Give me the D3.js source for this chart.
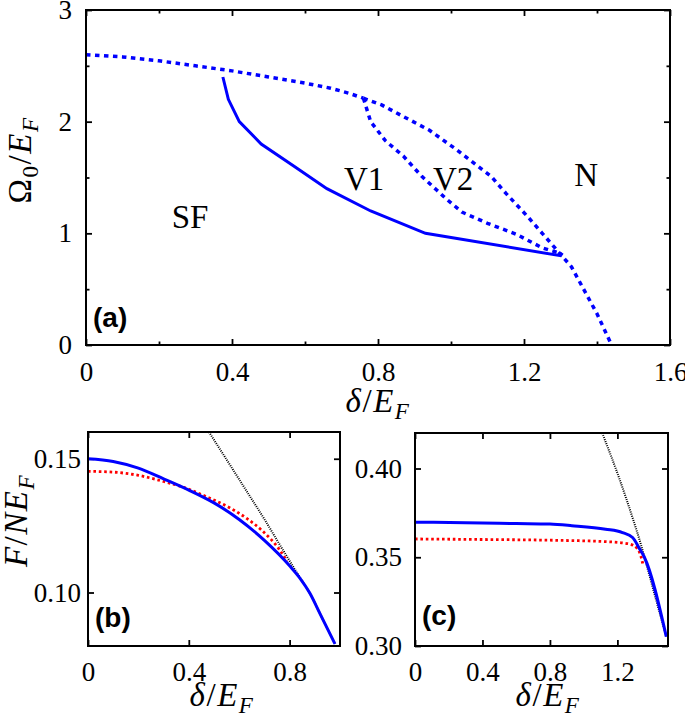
<!DOCTYPE html>
<html>
<head>
<meta charset="utf-8">
<title>phase diagram and free energy</title>
<style>
  body { margin: 0; background: #fff; }
  svg text { font-family: "Liberation Serif", "Times New Roman", serif; fill: #000; }
  .tag { font-family: "Liberation Sans", Arial, sans-serif !important; font-weight: bold; }
</style>
</head>
<body>
<svg id="fig" width="685" height="716"></svg>
<script src="https://cdnjs.cloudflare.com/ajax/libs/d3/7.8.5/d3.min.js"></script>
<script>
// ---- panel (a): phase boundaries, points are [delta/EF, Omega0/EF]
var upperBranch = [[0, 2.60], [0.1, 2.58], [0.2, 2.545], [0.3, 2.50], [0.4, 2.455], [0.5, 2.40],
                   [0.6, 2.345], [0.67, 2.30], [0.72, 2.255], [0.76, 2.21]];
var v1v2Branch = [[0.76, 2.21], [0.78, 2.0], [0.82, 1.83], [0.87, 1.69], [0.92, 1.51], [0.96, 1.39],
                  [0.99, 1.30], [1.03, 1.19], [1.10, 1.09], [1.18, 0.99], [1.25, 0.87], [1.30, 0.82]];
var v2nBranch = [[0.76, 2.21], [0.81, 2.15], [0.87, 2.045], [0.94, 1.925], [1.015, 1.75], [1.07, 1.61],
                 [1.11, 1.51], [1.15, 1.36], [1.21, 1.15], [1.25, 1.0], [1.29, 0.85], [1.33, 0.70],
                 [1.36, 0.52], [1.40, 0.28], [1.44, 0.0]];
var sfBoundary = [[0.375, 2.4], [0.39, 2.2], [0.42, 2.0], [0.48, 1.8], [0.57, 1.6], [0.66, 1.4],
                  [0.78, 1.2], [0.93, 1.0], [1.30, 0.80], [1.305, 0.825]];
var phaseNames = ["SF", "V1", "V2", "N"];
var phaseSpots = [[0.285, 1.05], [0.762, 1.39], [1.006, 1.39], [1.37, 1.42]];

// ---- panel (b): F/(N EF) vs delta/EF
var bBlue = [[0, 0.1500], [0.1, 0.1490], [0.2, 0.1465], [0.3, 0.1425], [0.4, 0.1383], [0.5, 0.1335],
             [0.6, 0.1273], [0.7, 0.1195], [0.8, 0.1100], [0.84, 0.1055], [0.88, 0.0998],
             [0.92, 0.0922], [0.98, 0.0808]];
var bRed = [[0, 0.1453], [0.1, 0.1450], [0.2, 0.1438], [0.3, 0.1415], [0.38, 0.1393], [0.47, 0.1358],
            [0.56, 0.1318], [0.63, 0.1277], [0.69, 0.1232], [0.76, 0.1160], [0.79, 0.1116]];
var bBlack = [[0.48, 0.160], [0.56, 0.1482], [0.63, 0.1378], [0.70, 0.1274], [0.76, 0.1180],
              [0.825, 0.1080], [0.86, 0.1028], [0.89, 0.0981], [0.92, 0.0922], [0.98, 0.0808]];

// ---- panel (c)
var cBlue = [[0, 0.3697], [0.3, 0.3695], [0.6, 0.3690], [0.8, 0.3687], [0.93, 0.3678], [1.13, 0.3658],
             [1.23, 0.3639], [1.29, 0.3611], [1.33, 0.3550], [1.36, 0.3500], [1.49, 0.3052]];
var cRed = [[0, 0.3603], [0.4, 0.3600], [0.8, 0.3596], [1.13, 0.3588], [1.27, 0.3575], [1.32, 0.3547],
            [1.34, 0.3503], [1.35, 0.3465]];
var cBlack = [[1.11, 0.420], [1.21, 0.3947], [1.29, 0.3722], [1.34, 0.3570], [1.37, 0.3467],
              [1.43, 0.3258], [1.49, 0.3052]];

// ticks
var aXTicks = [0, 0.4, 0.8, 1.2, 1.6], aXLabels = ["0", "0.4", "0.8", "1.2", "1.6"], aXMinor = [0.2, 0.6, 1.0, 1.4];
var aYTicks = [0, 1, 2, 3], aYLabels = ["0", "1", "2", "3"], aYMinor = [0.5, 1.5, 2.5];
var bXTicks = [0, 0.4, 0.8], bXLabels = ["0", "0.4", "0.8"];
var bYTicks = [0.10, 0.15], bYLabels = ["0.10", "0.15"];
var cXTicks = [0, 0.4, 0.8, 1.2], cXLabels = ["0", "0.4", "0.8", "1.2"];
var cYTicks = [0.30, 0.35, 0.40], cYLabels = ["0.30", "0.35", "0.40"];

var svg = d3.select('#fig');
var BLUE = '#0000ff', RED = '#ff0000';

function styleTicks(g, size) {
  g.select('.domain').remove();
  g.selectAll('.tick line').attr('stroke', '#000').attr('stroke-width', 1.8);
  g.selectAll('.tick text').style('font-size', size + 'px').style('font-family', '"Liberation Serif", serif');
}

function panel(p) {
  let x = d3.scaleLinear().domain(p.xDomain).range([p.left, p.right]);
  let y = d3.scaleLinear().domain(p.yDomain).range([p.bottom, p.top]);
  let g = svg.append('g');
  let fmt = (labels, ticks) => (d) => labels[ticks.indexOf(d)];

  g.append('g').attr('transform', 'translate(0,' + p.bottom + ')')
    .call(d3.axisBottom(x).tickValues(p.xTicks).tickFormat(fmt(p.xLabels, p.xTicks))
      .tickSizeInner(-6).tickSizeOuter(0).tickPadding(p.xPad))
    .call(styleTicks, p.fs);
  g.append('g').attr('transform', 'translate(0,' + p.top + ')')
    .call(d3.axisTop(x).tickValues(p.xTicks).tickFormat('').tickSizeInner(-6).tickSizeOuter(0))
    .call(styleTicks, p.fs);
  g.append('g').attr('transform', 'translate(' + p.left + ',0)')
    .call(d3.axisLeft(y).tickValues(p.yTicks).tickFormat(fmt(p.yLabels, p.yTicks))
      .tickSizeInner(-6).tickSizeOuter(0).tickPadding(p.yPad))
    .call(styleTicks, p.fs);
  g.append('g').attr('transform', 'translate(' + p.right + ',0)')
    .call(d3.axisRight(y).tickValues(p.yTicks).tickFormat('').tickSizeInner(-6).tickSizeOuter(0))
    .call(styleTicks, p.fs);
  if (p.xMinor) {
    g.append('g').attr('transform', 'translate(0,' + p.bottom + ')')
      .call(d3.axisBottom(x).tickValues(p.xMinor).tickFormat('').tickSizeInner(-3.5).tickSizeOuter(0)).call(styleTicks, p.fs);
    g.append('g').attr('transform', 'translate(0,' + p.top + ')')
      .call(d3.axisTop(x).tickValues(p.xMinor).tickFormat('').tickSizeInner(-3.5).tickSizeOuter(0)).call(styleTicks, p.fs);
  }
  if (p.yMinor) {
    g.append('g').attr('transform', 'translate(' + p.left + ',0)')
      .call(d3.axisLeft(y).tickValues(p.yMinor).tickFormat('').tickSizeInner(-3.5).tickSizeOuter(0)).call(styleTicks, p.fs);
    g.append('g').attr('transform', 'translate(' + p.right + ',0)')
      .call(d3.axisRight(y).tickValues(p.yMinor).tickFormat('').tickSizeInner(-3.5).tickSizeOuter(0)).call(styleTicks, p.fs);
  }

  let clipId = 'clip' + p.name;
  svg.append('clipPath').attr('id', clipId).append('rect')
    .attr('x', p.left).attr('y', p.top).attr('width', p.right - p.left).attr('height', p.bottom - p.top);
  let lines = g.append('g').attr('clip-path', 'url(#' + clipId + ')');
  let line = d3.line().x(d => x(d[0])).y(d => y(d[1])).curve(p.curve || d3.curveLinear);
  p.series.forEach(s => {
    lines.append('path').datum(s.data)
      .attr('d', line).attr('fill', 'none')
      .attr('stroke', s.color).attr('stroke-width', s.width)
      .attr('stroke-dasharray', s.dash || null);
  });

  g.append('rect').attr('x', p.left).attr('y', p.top)
    .attr('width', p.right - p.left).attr('height', p.bottom - p.top)
    .attr('fill', 'none').attr('stroke', '#000').attr('stroke-width', 2);

  g.append('text').attr('class', 'tag').attr('x', p.left + p.tagDx).attr('y', p.bottom - p.tagDy)
    .style('font-size', '28px').text(p.tag);
  return {x: x, y: y, g: g};
}

// math style label: parts [text, italic, sub]; centred on (cx, cy), optionally rotated
function mathText(parts, size, cx, cy, rot) {
  let holder = svg.append('g').attr('transform', 'translate(' + cx + ',' + cy + ')' + (rot ? ' rotate(' + rot + ')' : ''));
  let t = holder.append('text').style('font-size', size + 'px').style('letter-spacing', '1.5px');
  let inSub = false;
  parts.forEach(pt => {
    let span = t.append('tspan').text(pt[0]).style('font-style', pt[1] ? 'italic' : 'normal');
    if (pt[2] && !inSub) { span.attr('dy', size * 0.22).style('font-size', (size * 0.7) + 'px'); inSub = true; }
    else if (pt[2]) { span.style('font-size', (size * 0.7) + 'px'); }
    else if (inSub) { span.attr('dy', -size * 0.22); inSub = false; }
  });
  let bb = t.node().getBBox();
  t.attr('x', -(bb.x + bb.width / 2));
  return t;
}

var deltaLabel = [["δ", true], ["/", false], ["E", true], ["F", true, true]];

// ---------- (a)
var A = panel({
  name: 'a', left: 86, right: 670, top: 10, bottom: 345,
  xDomain: [0, 1.6], yDomain: [0, 3],
  xTicks: aXTicks, xLabels: aXLabels, xMinor: aXMinor,
  yTicks: aYTicks, yLabels: aYLabels, yMinor: aYMinor,
  xPad: 17, yPad: 14, fs: 27, tag: '(a)', tagDx: 7, tagDy: 18,
  series: [
    {data: upperBranch, color: BLUE, width: 3.5, dash: '4.5,4.5'},
    {data: v1v2Branch, color: BLUE, width: 3.5, dash: '4.5,4.5'},
    {data: v2nBranch, color: BLUE, width: 3.5, dash: '4.5,4.5'},
    {data: sfBoundary, color: BLUE, width: 3}
  ]
});
A.g.selectAll('.phase').data(phaseNames).enter().append('text')
  .attr('class', 'phase')
  .attr('x', (d, i) => A.x(phaseSpots[i][0])).attr('y', (d, i) => A.y(phaseSpots[i][1]))
  .attr('text-anchor', 'middle').style('font-size', '33px').text(d => d);

mathText(deltaLabel, 33, 378, 412);
mathText([["Ω", false], ["0", false, true], ["/", false], ["E", true], ["F", true, true]], 33, 31, 160, -90);

// ---------- (b)
var B = panel({
  name: 'b', left: 88, right: 340, top: 432, bottom: 646,
  xDomain: [0, 1.0], yDomain: [0.08, 0.16],
  xTicks: bXTicks, xLabels: bXLabels, yTicks: bYTicks, yLabels: bYLabels,
  xPad: 16, yPad: 7, fs: 27, tag: '(b)', tagDx: 7, tagDy: 19, curve: d3.curveMonotoneX,
  series: [
    {data: bBlack, color: '#000', width: 2, dash: '1,1.2'},
    {data: bRed, color: RED, width: 2.8, dash: '2.6,2.8'},
    {data: bBlue, color: BLUE, width: 3}
  ]
});
mathText(deltaLabel, 33, 222, 706);
mathText([["F", true], ["/", false], ["N", true], ["E", true], ["F", true, true]], 33, 27, 521, -90);

// ---------- (c)
var C = panel({
  name: 'c', left: 415, right: 668, top: 433, bottom: 646,
  xDomain: [0, 1.5], yDomain: [0.30, 0.42],
  xTicks: cXTicks, xLabels: cXLabels, yTicks: cYTicks, yLabels: cYLabels,
  xPad: 16, yPad: 13, fs: 27, tag: '(c)', tagDx: 7, tagDy: 21, curve: d3.curveMonotoneX,
  series: [
    {data: cBlack, color: '#000', width: 2, dash: '1,1.2'},
    {data: cRed, color: RED, width: 2.8, dash: '2.6,2.8'},
    {data: cBlue, color: BLUE, width: 3}
  ]
});
mathText(deltaLabel, 33, 548, 706);
</script>
</body>
</html>
